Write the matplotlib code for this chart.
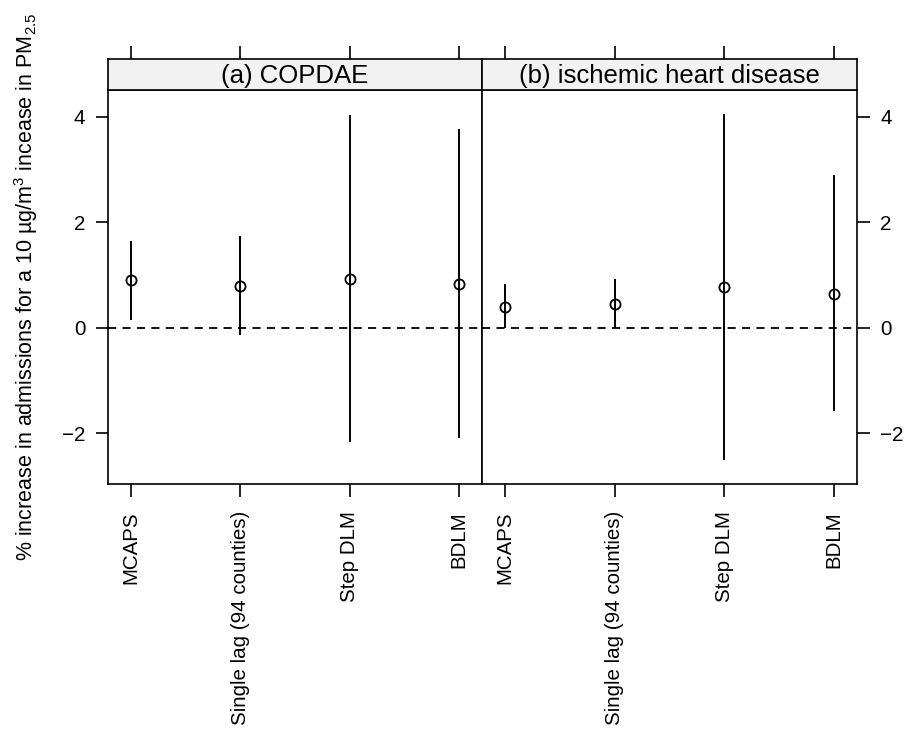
import matplotlib
matplotlib.use("Agg")
import matplotlib.pyplot as plt

plt.rcParams['font.family'] = ['Liberation Sans', 'DejaVu Sans']
plt.rcParams['mathtext.fontset'] = 'custom'
plt.rcParams['mathtext.rm'] = 'Liberation Sans'
plt.rcParams['mathtext.it'] = 'Liberation Sans'

methods = ["MCAPS", "Single lag (94 counties)", "Step DLM", "BDLM"]
panels = ["(a) COPDAE", "(b) ischemic heart disease"]

# estimates and interval ends, one list per panel
copd_est = [0.90, 0.80, 0.93, 0.83]
copd_low = [0.15, -0.13, -2.17, -2.08]
copd_high = [1.64, 1.74, 4.04, 3.78]

ihd_est = [0.40, 0.45, 0.77, 0.65]
ihd_low = [0.00, 0.00, -2.51, -1.57]
ihd_high = [0.83, 0.93, 4.06, 2.89]

yticks = [-2, 0, 2, 4]

W, H = 906, 737
fig = plt.figure(figsize=(W / 100, H / 100), dpi=100)

def box(x0, y0, x1, y1):
    # pixel box (top-left origin) -> figure fraction
    return [x0 / W, 1 - y1 / H, (x1 - x0) / W, (y1 - y0) / H]

xpos = [1, 2, 3, 4]
edges = [(107.7, 482.3), (482.3, 856.7)]
data = [(copd_est, copd_low, copd_high), (ihd_est, ihd_low, ihd_high)]

for i, (title, (est, low, high)) in enumerate(zip(panels, data)):
    x0, x1 = edges[i]
    ax = fig.add_axes(box(x0, 90, x1, 484))
    ax.axhline(0, color='black', lw=1.3, dashes=(4.5, 3.5))
    ax.vlines(xpos, low, high, color='black', lw=1.4)
    ax.plot(xpos, est, 'o', ms=7.3, mfc='none', mec='black', mew=1.3)
    ax.set_xlim(0.79, 4.21)
    ax.set_ylim(-2.96, 4.51)
    ax.set_xticks(xpos)
    ax.set_xticklabels(methods, rotation=90, fontsize=14.8, va='top')
    ax.tick_params(axis='x', length=9.5, width=1.2, pad=10, direction='out')
    ax.set_yticks(yticks)
    if i == 0:
        ax.tick_params(axis='y', left=True, right=False, labelleft=True,
                       labelright=False, length=9, width=1.2, pad=7,
                       labelsize=14.8)
    else:
        ax.tick_params(axis='y', left=False, right=True, labelleft=False,
                       labelright=True, length=9, width=1.2, pad=8,
                       labelsize=14.8)
    for s in ax.spines.values():
        s.set_linewidth(1.2)

    # strip on top of the panel
    st = fig.add_axes(box(x0, 59, x1, 90))
    st.set_facecolor('#f2f2f2')
    st.set_xlim(0.79, 4.21)
    st.set_ylim(0, 1)
    st.set_xticks(xpos)
    st.xaxis.tick_top()
    st.tick_params(axis='x', length=9.5, width=1.2, labeltop=False, direction='out')
    st.set_yticks([])
    for s in st.spines.values():
        s.set_linewidth(1.2)
    st.text(2.5, 0.45, title, ha='center', va='center', fontsize=18.5)

fig.text(26 / W, 1 - 286.5 / H,
         r"% increase in admissions for a 10 µg/m$^3$ incease in PM$_{2.5}$",
         rotation=90, ha='center', va='center', fontsize=15.5)

plt.savefig("out.png", dpi=100)
